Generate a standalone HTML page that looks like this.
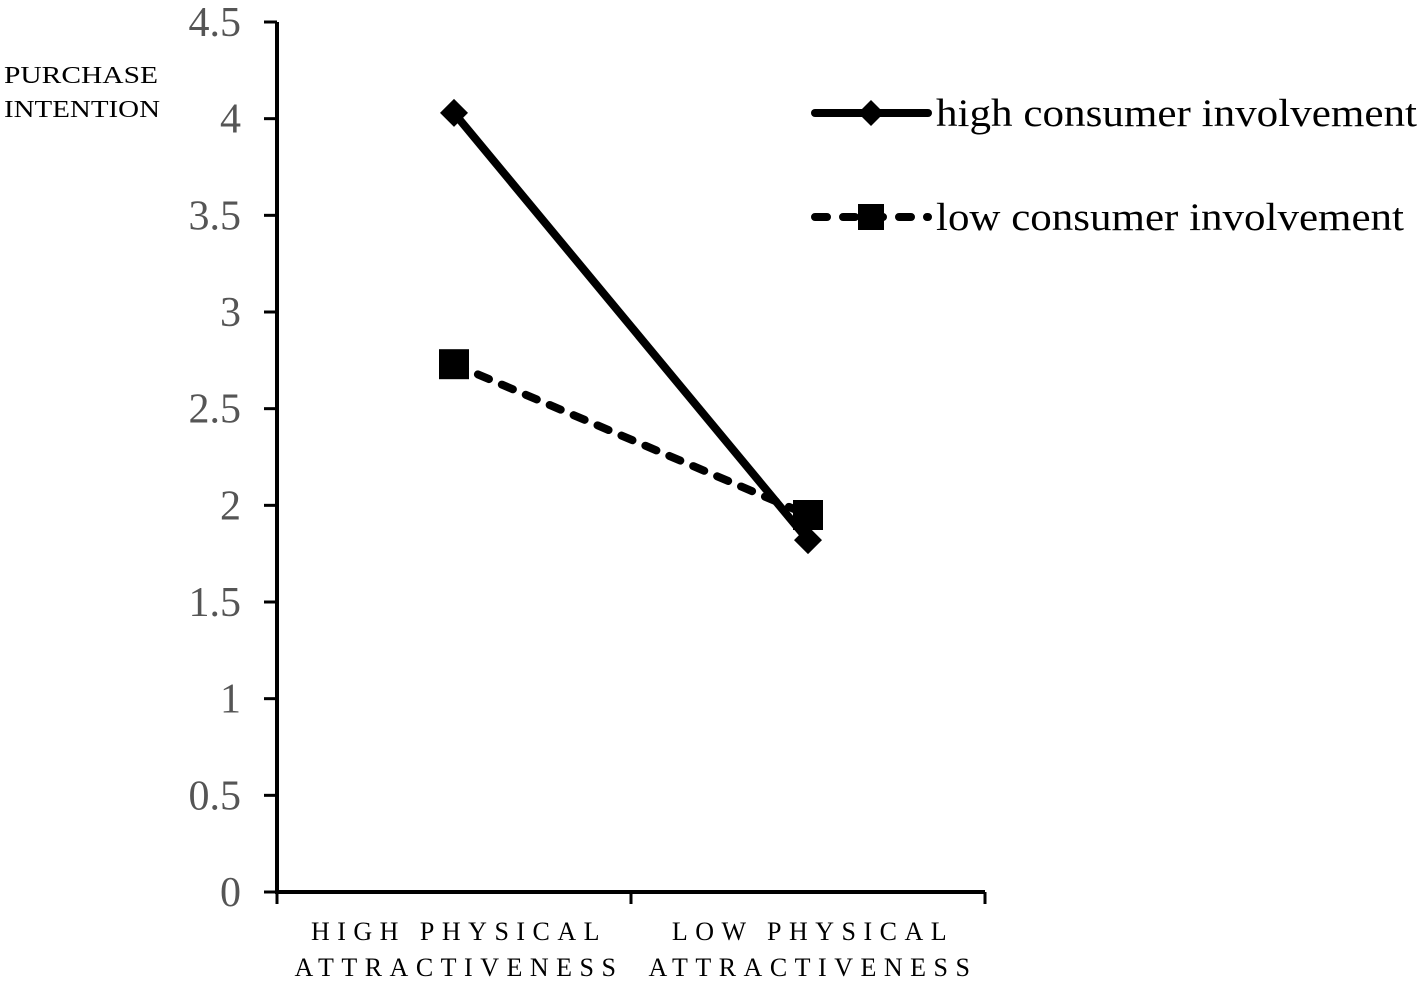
<!DOCTYPE html>
<html><head><meta charset="utf-8"><style>
html,body{margin:0;padding:0;background:#fff;}
svg{display:block;font-family:"Liberation Serif",serif;}
</style></head><body>
<svg id="chart" width="1421" height="983">
<g id="axes"></g><g id="series"></g>
<text font-size="24"><tspan x="4" y="83" textLength="154" lengthAdjust="spacingAndGlyphs">PURCHASE</tspan><tspan x="4" y="117" textLength="156" lengthAdjust="spacingAndGlyphs">INTENTION</tspan></text>
<g>
<g>
<line x1="815" y1="113" x2="928" y2="113" stroke="#000" stroke-width="8" stroke-linecap="round"/>
<polygon points="871,100 884,113 871,126 858,113" fill="#000"/>
<text x="936" y="126" font-size="39" textLength="481" lengthAdjust="spacingAndGlyphs">high consumer involvement</text></g>
<g>
<line x1="815" y1="217" x2="928" y2="217" stroke="#000" stroke-width="8" stroke-linecap="round" stroke-dasharray="12 16"/>
<rect x="858" y="204" width="26" height="26" fill="#000"/>
<text x="936" y="230" font-size="39" textLength="468" lengthAdjust="spacingAndGlyphs">low consumer involvement</text></g>
</g>
</svg>
<script>
const categories=["HIGH PHYSICAL|ATTRACTIVENESS","LOW PHYSICAL|ATTRACTIVENESS"];
const highValues=[4.03,1.82];
const lowValues=[2.73,1.95];
const yTicks=[0,0.5,1,1.5,2,2.5,3,3.5,4,4.5];
const yTickLabels=["0","0.5","1","1.5","2","2.5","3","3.5","4","4.5"];
const NS="http://www.w3.org/2000/svg";
const x0=277,x1=985,y0=892,yTop=22,ymax=4.5;
function yS(v){return y0-(v/ymax)*(y0-yTop);}
function xS(i){const w=(x1-x0)/categories.length;return x0+w*(i+0.5);}
function mk(t,a,p){const e=document.createElementNS(NS,t);for(const k in a)e.setAttribute(k,a[k]);p.appendChild(e);return e;}
const axes=document.getElementById('axes'),series=document.getElementById('series');
let ya=mk('line',{x1:x0,y1:yTop,x2:x0,y2:y0+2,stroke:'#000','stroke-width':4},axes);


let xa=mk('line',{x1:x0-2,y1:y0,x2:x1,y2:y0,stroke:'#000','stroke-width':4},axes);


yTicks.forEach((v,i)=>{const y=yS(v);
 mk('line',{x1:264,y1:y,x2:x0,y2:y,stroke:'#000','stroke-width':3},axes);
 const t=mk('text',{x:241,y:y+14,'font-size':42,fill:'#555','text-anchor':'end'},axes);
 t.textContent=yTickLabels[i];
 
 
});
for(let i=0;i<=categories.length;i++){const x=x0+(x1-x0)/categories.length*i;
 mk('line',{x1:x,y1:y0,x2:x,y2:y0+12,stroke:'#000','stroke-width':3},axes);}
categories.forEach((c,i)=>{const parts=c.split('|');
 parts.forEach((p,j)=>{const t=mk('text',{x:xS(i)+5,y:940+j*36,'font-size':26,'text-anchor':'middle','letter-spacing':'7.5'},axes);
 t.textContent=p;
 
 });
});
let ll=mk('polyline',{points:lowValues.map((v,i)=>xS(i)+','+yS(v)).join(' '),fill:'none',stroke:'#000','stroke-width':8,'stroke-dasharray':'12 14','stroke-linecap':'round'},series);


let hl=mk('polyline',{points:highValues.map((v,i)=>xS(i)+','+yS(v)).join(' '),fill:'none',stroke:'#000','stroke-width':8},series);


lowValues.forEach((v,i)=>{const r=mk('rect',{x:xS(i)-15,y:yS(v)-15,width:30,height:30,fill:'#000'},series);
 
 });
highValues.forEach((v,i)=>{const x=xS(i),y=yS(v);const p=mk('polygon',{points:`${x},${y-14} ${x+14},${y} ${x},${y+14} ${x-14},${y}`,fill:'#000'},series);
 
 });
</script>
</body></html>
